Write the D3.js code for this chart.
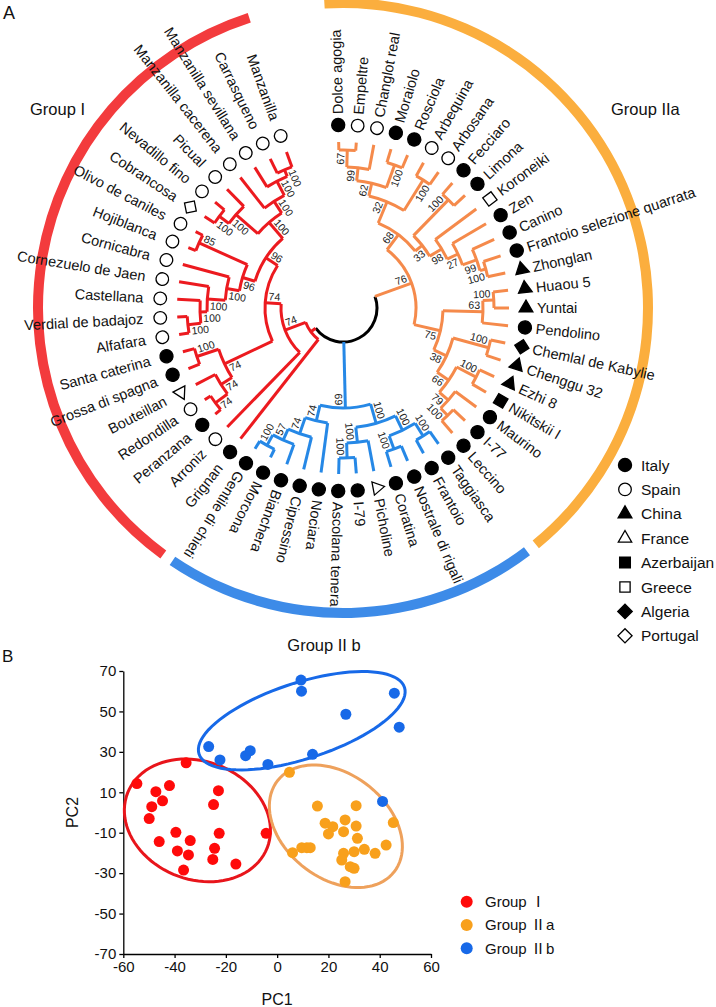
<!DOCTYPE html>
<html><head><meta charset="utf-8">
<script src="https://cdn.jsdelivr.net/npm/d3@7"></script>
<style>
body{margin:0;background:#fff}
svg{display:block}
text{font-family:"Liberation Sans",Arial,sans-serif;fill:#111}
</style>
</head><body>
<svg id="c" width="716" height="1007"></svg>
<script>
// ---------------- DATA ----------------
const cultivars = ["Dolce agogia","Empeltre","Changlot real","Moraiolo","Rosciola","Arbequina","Arbosana","Fecciaro","Limona","Koroneiki","Zen","Canino","Frantoio selezione quarrata","Zhonglan","Huaou 5","Yuntai","Pendolino","Chemlal de Kabylie","Chenggu 32","Ezhi 8","Nikitskii I","Maurino","I-77","Leccino","Taggiasca","Frantoio","Nostrale di rigali","Coratina","Picholine","I-79","Ascolana tenera","Nociara","Cipressino","Bianchera","Morcona","Gentile di chieti","Grignan","Arroniz","Peranzana","Redondilla","Bouteillan","Grossa di spagna","Santa caterina","Alfafara","Verdial de badajoz","Castellana","Cornezuelo de Jaen","Cornicabra","Hojiblanca","Olivo de caniles","Cobrancosa","Nevadillo fino","Picual","Manzanilla cacerena","Manzanilla sevillana","Carrasqueno","Manzanilla"];
const origins = ["Italy","Spain","Spain","Italy","Italy","Spain","Spain","Italy","Italy","Greece","Italy","Italy","Italy","China","China","China","Italy","Algeria","China","China","Azerbaijan","Italy","Italy","Italy","Italy","Italy","Italy","Italy","France","Italy","Italy","Italy","Italy","Italy","Italy","Italy","Italy","Spain","Italy","Spain","France","Italy","Italy","Spain","Spain","Spain","Spain","Spain","Spain","Spain","Portugal","Spain","Spain","Spain","Spain","Spain","Spain"];
const countries = ["Italy","Spain","China","France","Azerbaijan","Greece","Algeria","Portugal"];
// clade id, children, bootstrap, node depth (distance from centre)
const clades = [
 ["root",["O76","B69","Rn"],null,34],
 ["O76",["M68","N75"],76,73],
 ["M68",["F32","L33"],68,92],
 ["F32",["D62","E100"],32,115],
 ["D62",["B99","C100"],62,128],
 ["B99",["A67","Changlot real"],99,141],
 ["A67",["Dolce agogia","Empeltre"],67,158],
 ["C100",["Moraiolo","Rosciola"],100,152],
 ["E100",["Arbequina","Arbosana"],100,151],
 ["L33",["G100","K98"],33,101],
 ["G100",["Fecciaro","Limona"],100,151],
 ["K98",["Koroneiki","J27"],98,115],
 ["J27",["Zen","I99"],27,127],
 ["I99",["Canino","H100"],99,142],
 ["H100",["Frantoio selezione quarrata","Zhonglan"],100,148],
 ["N75",["b63","h38"],75,100],
 ["b63",["a100","Pendolino"],63,140],
 ["a100",["Huaou 5","Yuntai"],100,151],
 ["h38",["c100","g66"],38,114],
 ["c100",["Chemlal de Kabylie","Chenggu 32"],100,151],
 ["g66",["d100","f79"],66,128],
 ["d100",["Ezhi 8","Nikitskii I"],100,150],
 ["f79",["Maurino","e100"],79,140],
 ["e100",["I-77","Leccino"],100,150],
 ["B69",["c6","b4"],69,100],
 ["c6",["c5","c2"],100,120],
 ["c5",["c4","c3"],100,136],
 ["c4",["Taggiasca","Frantoio"],100,151],
 ["c3",["Nostrale di rigali","Coratina"],100,150],
 ["c2",["Picholine","c1"],100,135],
 ["c1",["I-79","Ascolana tenera"],100,150],
 ["b4",["Nociara","b3"],74,116],
 ["b3",["Cipressino","b2"],74,133],
 ["b2",["Bianchera","b1"],57,145],
 ["b1",["Morcona","Gentile di chieti"],100,157],
 ["Rn",["Grignan","Y"],null,40],
 ["Y",["Arroniz","Z"],74,62],
 ["Z",["u3","q"],74,78],
 ["u3",["u2","s1"],74,131],
 ["u2",["u1","Bouteillan"],74,144],
 ["u1",["Peranzana","Redondilla"],74,159],
 ["s1",["Grossa di spagna","Santa caterina"],100,154],
 ["q",["p","m4"],96,92],
 ["p",["l4","h85"],96,105],
 ["l4",["l3","Cornicabra"],100,118],
 ["l3",["l2","Cornezuelo de Jaen"],100,136],
 ["l2",["l1","Castellana"],100,143],
 ["l1",["Alfafara","Verdial de badajoz"],100,156],
 ["h85",["Hojiblanca","Olivo de caniles"],85,158],
 ["m4",["n2","m3"],100,113],
 ["n2",["n1","Picual"],100,142],
 ["n1",["Cobrancosa","Nevadillo fino"],100,154],
 ["m3",["Manzanilla cacerena","m2"],100,127],
 ["m2",["Manzanilla sevillana","m1"],100,143],
 ["m1",["Carrasqueno","Manzanilla"],100,150]
];
const groupClades = ["O76","B69","Rn"];

const pcRed = [[-35.5,24.6],[-54.7,14.3],[-47.3,10.3],[-42,13.3],[-44.7,5.8],[-48.9,2.9],[-22.9,10.8],[-24.8,3.9],[-49.9,-3],[-39.5,-9.8],[-22.6,-10.3],[-4.3,-10.3],[-46,-14.4],[-33.9,-13.9],[-38.9,-19],[-34.6,-21],[-24.4,-17.7],[-25.1,-23.2],[-16.1,-25.5],[-36.5,-28.5]];
const pcOrange = [[4.8,19.9],[15.7,3.2],[30.8,3.4],[45.3,-5],[18.7,-5.3],[21.7,-7],[26.5,-3.7],[30.8,-6.7],[20,-10.6],[25.9,-9.5],[31.3,-12.8],[42.5,-16.1],[38.2,-20.2],[34,-18.2],[30,-19.4],[25.9,-20.2],[25.2,-23.5],[28.5,-26.8],[30,-27.6],[6,-19.9],[9.6,-17.4],[11.6,-17.4],[12.9,-17.4],[26.5,-34.2]];
const pcBlue = [[9.3,65.5],[9.5,60],[26.8,48.6],[45.7,59],[47.6,42.2],[-26.7,32.6],[-22.3,26],[-12.3,28.1],[-10.5,30.6],[-3.6,23.8],[13.8,28.8],[41.1,5.5]];
// confidence ellipses: centre (PC1, PC2), semi-axes (px), tilt (deg)
const ellipses = [
 {g:"I", cx:-31.1, cy:-3.9, a:75, b:59, rot:21.5},
 {g:"IIa", cx:22.9, cy:-6.8, a:74, b:52, rot:38},
 {g:"IIb", cx:9.6, cy:45.4, a:108, b:38, rot:-18}
];
const xTicks = [-60,-40,-20,0,20,40,60];
const yTicks = [-70,-50,-30,-10,10,30,50,70];
const pcLegend = [["Group ","Ⅰ",""],["Group ","Ⅱ","a"],["Group ","Ⅱ","b"]];

// ---------------- STYLE ----------------
const branchColor = {O76:"#f58a4b", B69:"#2688e6", Rn:"#ec1a1f"};
const ringColor = {O76:"#fbae3e", B69:"#3d8be8", Rn:"#f33b3d"};
const ptColor = {I:"#ff0a0a", IIa:"#f8a01c", IIb:"#1769e8"};
const elColor = {I:"#e8151b", IIa:"#eea15c", IIb:"#1769e8"};

const svg = d3.select("#c");
const deg = Math.PI/180;
const cx = 343, cy = 308, tipR = 166, markR = 183, labR = 194, labRflip = 200, ringR = 305;
const polar = (r,a)=>[r*Math.sin(a*deg), -r*Math.cos(a*deg)];

// ---------------- TREE ----------------
const cladeMap = new Map(clades.map(c=>[c[0],c]));
function build(name){
  const c = cladeMap.get(name);
  if(!c) return {name};
  return {name, boot:c[2], depth:c[3], children:c[1].map(build)};
}
const root = d3.hierarchy(build("root"));
const leaves = root.leaves();
const angle = d3.scaleLinear().domain([0, leaves.length-1]).range([-1.5, 340.1]);
leaves.forEach((l,i)=>{ l.a = angle(i); l.r = tipR; l.country = origins[cultivars.indexOf(l.data.name)]; });
root.eachAfter(n=>{ if(n.children){ n.a = (n.children[0].a + n.children[n.children.length-1].a)/2; n.r = n.data.depth; } });
root.each(n=>{ if(n.depth>=1){ let g=n; while(g.depth>1) g=g.parent; n.grp = g.data.name; } });

const T = svg.append("g").attr("transform",`translate(${cx},${cy})`);

// rings
const ringArc = d3.arc().innerRadius(ringR-5).outerRadius(ringR+5);
groupClades.forEach(gc=>{
  const node = root.children.find(c=>c.data.name===gc);
  const lv = node.leaves();
  T.append("path").attr("d", ringArc({startAngle:(lv[0].a-2)*deg, endAngle:(lv[lv.length-1].a+2)*deg}))
    .attr("fill", ringColor[gc]);
});

function arcPath(r,a0,a1){
  const p = d3.path(); const s = polar(r,a0);
  p.moveTo(s[0],s[1]); p.arc(0,0,r,(a0-90)*deg,(a1-90)*deg,false);
  return p.toString();
}
// branches
root.descendants().forEach(n=>{
  if(n.parent){
    const s = polar(n.parent.r, n.a), e = polar(n.r, n.a);
    T.append("line").attr("x1",s[0]).attr("y1",s[1]).attr("x2",e[0]).attr("y2",e[1])
      .attr("stroke",branchColor[n.grp]).attr("stroke-width",3).attr("stroke-linecap","butt");
  }
  if(n.children){
    T.append("path").attr("d",arcPath(n.r,n.children[0].a,n.children[n.children.length-1].a))
      .attr("fill","none").attr("stroke", n.depth===0?"#000":branchColor[n.grp]).attr("stroke-width",3);
  }
});
// bootstrap values
root.descendants().filter(n=>n.data.boot!=null).forEach(n=>{
  const sib = n.parent.children;
  const side = sib[0]===n ? -1 : 1;
  const p = polar(n.r-3, n.a);
  const t = [Math.cos(n.a*deg), Math.sin(n.a*deg)];
  const x = p[0]+side*6.5*t[0], y = p[1]+side*6.5*t[1];
  const flip = n.a>180 && n.a<360;
  T.append("text").attr("x",x).attr("y",y).attr("dy","0.35em")
    .attr("transform",`rotate(${flip?n.a+90:n.a-90},${x},${y})`)
    .attr("text-anchor",flip?"start":"end").attr("font-size",10.5).style("fill","#222")
    .text(n.data.boot);
});

// markers
const symType = {Italy:[d3.symbolCircle,true,0,135],Spain:[d3.symbolCircle,false,0,125],China:[d3.symbolTriangle,true,0,82],France:[d3.symbolTriangle,false,0,78],Azerbaijan:[d3.symbolSquare,true,0,115],Greece:[d3.symbolSquare,false,0,105],Algeria:[d3.symbolSquare,true,45,105],Portugal:[d3.symbolSquare,false,45,100]};
function marker(sel, country, x, y, rot){
  const s = symType[country];
  sel.append("path").attr("d", d3.symbol().type(s[0]).size(s[3])())
    .attr("transform",`translate(${x},${y}) rotate(${rot+s[2]})`)
    .attr("fill", s[1]?"#000":"#fff").attr("stroke","#000").attr("stroke-width",1.3);
}
leaves.forEach(l=>{
  const p = polar(markR, l.a);
  marker(T, l.country, p[0], p[1], l.a-90);
  const flip = l.a>216 && l.a<360;
  T.append("text").attr("transform", flip?`rotate(${l.a+90}) translate(${-labRflip},0)`:`rotate(${l.a-90}) translate(${labR},0)`)
    .attr("dy","0.35em").attr("text-anchor",flip?"end":"start").attr("font-size",14.5).text(l.data.name);
});

// group titles
svg.append("text").attr("x",30).attr("y",115).attr("font-size",16.5).text("Group I");
svg.append("text").attr("x",611).attr("y",115).attr("font-size",16.5).text("Group IIa");
svg.append("text").attr("x",324).attr("y",651).attr("text-anchor","middle").attr("font-size",16.5).text("Group II b");
svg.append("text").attr("x",3).attr("y",19).attr("font-size",18).text("A");
svg.append("text").attr("x",2).attr("y",662).attr("font-size",17).text("B");

// country legend
const lg = svg.append("g");
countries.forEach((c,i)=>{
  const y = 465 + i*24.4;
  marker(lg, c, 625, y, 0);
  lg.append("text").attr("x",641).attr("y",y).attr("dy","0.36em").attr("font-size",15.5).text(c);
});

// ---------------- PCA ----------------
const x = d3.scaleLinear().domain([-60,60]).range([123.3,431]);
const y = d3.scaleLinear().domain([-70,70]).range([954,671]);
const P = svg.append("g");
const ax = P.append("g").attr("transform",`translate(0,${y(-70)})`)
  .call(d3.axisBottom(x).tickValues(xTicks).tickFormat(d=>String(d)).tickSize(4).tickSizeOuter(0).tickPadding(3));
const ay = P.append("g").attr("transform",`translate(${x(-60)},0)`)
  .call(d3.axisLeft(y).tickValues(yTicks).tickFormat(d=>String(d)).tickSize(4).tickSizeOuter(0).tickPadding(3));
[ax,ay].forEach(a=>{
  a.selectAll("path,line").attr("stroke","#000").attr("stroke-width",1.3);
  a.selectAll("text").attr("font-size",15).attr("font-family","Liberation Sans, Arial, sans-serif").style("fill","#111");
});
P.append("text").attr("x",x(0)).attr("y",1005).attr("text-anchor","middle").attr("font-size",16).text("PC1");
P.append("text").attr("transform",`translate(78,${y(0)}) rotate(-90)`).attr("text-anchor","middle").attr("font-size",16).text("PC2");

const lineGen = d3.line();
ellipses.forEach(e=>{
  const c0 = [x(e.cx), y(e.cy)], r = e.rot*deg;
  const pts = d3.range(0,361,4).map(t=>{ t*=deg;
    const ex=e.a*Math.cos(t), ey=e.b*Math.sin(t);
    return [c0[0]+ex*Math.cos(r)-ey*Math.sin(r), c0[1]+ex*Math.sin(r)+ey*Math.cos(r)]; });
  P.append("path").attr("d",lineGen(pts)+"Z").attr("fill","none").attr("stroke",elColor[e.g]).attr("stroke-width",3);
});
[["I",pcRed],["IIa",pcOrange],["IIb",pcBlue]].forEach(([g,arr])=>{
  P.selectAll(null).data(arr).enter().append("circle")
    .attr("cx",d=>x(d[0])).attr("cy",d=>y(d[1])).attr("r",5.5).attr("fill",ptColor[g]);
});
pcLegend.forEach((t,i)=>{
  const yy = 901.7 + i*23.3;
  P.append("circle").attr("cx",466.7).attr("cy",yy).attr("r",6).attr("fill",ptColor[["I","IIa","IIb"][i]]);
  const tx = P.append("text").attr("x",485).attr("y",yy).attr("dy","0.36em").attr("font-size",15);
  tx.append("tspan").text(t[0]);
  tx.append("tspan").style("font-family","'Noto Sans CJK SC'").text(t[1]);
  tx.append("tspan").text(t[2]);
});
</script>
</body></html>
